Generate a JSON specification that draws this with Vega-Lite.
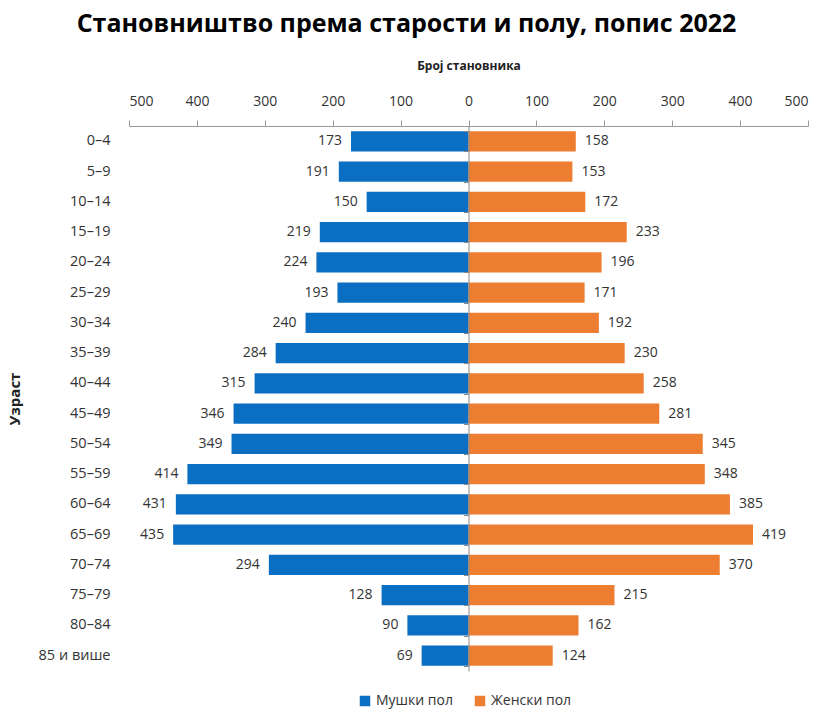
{
  "$schema": "https://vega.github.io/schema/vega-lite/v6.json",
  "width": 679,
  "height": 545,
  "autosize": {"type": "none"},
  "padding": {"left": 129, "top": 126, "right": 13, "bottom": 39},
  "background": "white",
  "config": {
    "font": "Open Sans",
    "view": {"stroke": null},
    "axis": {"labelColor": "#333333", "titleColor": "#222222"}
  },
  "title": {
    "text": "Становништво према старости и полу, попис 2022",
    "fontSize": 25,
    "fontWeight": "bold",
    "color": "#000000",
    "anchor": "middle",
    "dx": -62,
    "offset": 22
  },
  "data": {
    "values": [
      {"age": "0–4", "sex": "Мушки пол", "value": -173},
      {"age": "5–9", "sex": "Мушки пол", "value": -191},
      {"age": "10–14", "sex": "Мушки пол", "value": -150},
      {"age": "15–19", "sex": "Мушки пол", "value": -219},
      {"age": "20–24", "sex": "Мушки пол", "value": -224},
      {"age": "25–29", "sex": "Мушки пол", "value": -193},
      {"age": "30–34", "sex": "Мушки пол", "value": -240},
      {"age": "35–39", "sex": "Мушки пол", "value": -284},
      {"age": "40–44", "sex": "Мушки пол", "value": -315},
      {"age": "45–49", "sex": "Мушки пол", "value": -346},
      {"age": "50–54", "sex": "Мушки пол", "value": -349},
      {"age": "55–59", "sex": "Мушки пол", "value": -414},
      {"age": "60–64", "sex": "Мушки пол", "value": -431},
      {"age": "65–69", "sex": "Мушки пол", "value": -435},
      {"age": "70–74", "sex": "Мушки пол", "value": -294},
      {"age": "75–79", "sex": "Мушки пол", "value": -128},
      {"age": "80–84", "sex": "Мушки пол", "value": -90},
      {"age": "85 и више", "sex": "Мушки пол", "value": -69},
      {"age": "0–4", "sex": "Женски пол", "value": 158},
      {"age": "5–9", "sex": "Женски пол", "value": 153},
      {"age": "10–14", "sex": "Женски пол", "value": 172},
      {"age": "15–19", "sex": "Женски пол", "value": 233},
      {"age": "20–24", "sex": "Женски пол", "value": 196},
      {"age": "25–29", "sex": "Женски пол", "value": 171},
      {"age": "30–34", "sex": "Женски пол", "value": 192},
      {"age": "35–39", "sex": "Женски пол", "value": 230},
      {"age": "40–44", "sex": "Женски пол", "value": 258},
      {"age": "45–49", "sex": "Женски пол", "value": 281},
      {"age": "50–54", "sex": "Женски пол", "value": 345},
      {"age": "55–59", "sex": "Женски пол", "value": 348},
      {"age": "60–64", "sex": "Женски пол", "value": 385},
      {"age": "65–69", "sex": "Женски пол", "value": 419},
      {"age": "70–74", "sex": "Женски пол", "value": 370},
      {"age": "75–79", "sex": "Женски пол", "value": 215},
      {"age": "80–84", "sex": "Женски пол", "value": 162},
      {"age": "85 и више", "sex": "Женски пол", "value": 124}
    ]
  },
  "encoding": {
    "x": {
      "field": "value",
      "type": "quantitative",
      "scale": {"domain": [-500, 500], "nice": false},
      "axis": {
        "orient": "top",
        "values": [-500, -400, -300, -200, -100, 0, 100, 200, 300, 400, 500],
        "labelExpr": "abs(datum.value)",
        "title": "Број становника",
        "titleFontSize": 12,
        "titleFontWeight": "bold",
        "titlePadding": 22,
        "labelFontSize": 14,
        "labelPadding": 12,
        "grid": false,
        "domainColor": "#999999",
        "tickColor": "#999999",
        "tickSize": 6
      }
    }
  },
  "layer": [
    {
      "mark": {"type": "bar"},
      "encoding": {
        "y": {
          "field": "age",
          "type": "nominal",
          "sort": null,
          "scale": {"paddingInner": 0.33, "paddingOuter": 0.17},
          "axis": {
            "orient": "left",
            "title": "Узраст",
            "titleFontSize": 15,
            "titleFontWeight": "bold",
            "titlePadding": 16,
            "labelFontSize": 14.5,
            "labelPadding": 19,
            "ticks": false,
            "domain": false
          }
        },
        "color": {
          "field": "sex",
          "type": "nominal",
          "scale": {"domain": ["Мушки пол", "Женски пол"], "range": ["#0A6EC2", "#ED7D31"]},
          "legend": {
            "orient": "none",
            "legendX": 229,
            "legendY": 568,
            "direction": "horizontal",
            "title": null,
            "symbolType": "square",
            "symbolSize": 110,
            "labelFontSize": 14,
            "labelColor": "#333333",
            "columnPadding": 20
          }
        }
      }
    },
    {
      "transform": [{"filter": "datum.value < 0"}],
      "mark": {"type": "text", "align": "right", "dx": -9, "fontSize": 14, "color": "#333333", "text": {"expr": "-datum.value"}},
      "encoding": {
        "y": {
          "field": "age",
          "type": "nominal",
          "sort": null,
          "axis": {
            "orient": "right",
            "offset": -339.5,
            "labels": false,
            "title": null,
            "domain": true,
            "domainColor": "#888888",
            "ticks": true,
            "tickBand": "extent",
            "tickSize": -5,
            "tickColor": "#888888",
            "zindex": 1
          }
        }
      }
    },
    {
      "transform": [{"filter": "datum.value > 0"}],
      "mark": {"type": "text", "align": "left", "dx": 9, "fontSize": 14, "color": "#333333", "text": {"expr": "datum.value"}},
      "encoding": {
        "y": {"field": "age", "type": "nominal", "sort": null, "axis": null}
      }
    }
  ],
  "resolve": {"axis": {"y": "independent"}}
}
